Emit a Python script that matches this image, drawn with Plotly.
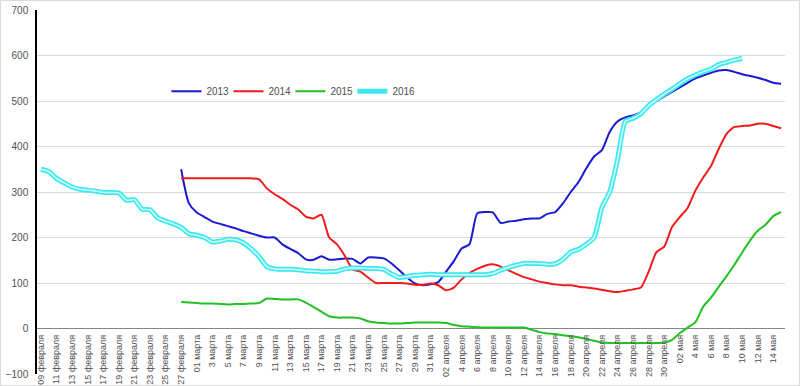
import pandas as pd
import plotly.graph_objects as go

# Categories: one per day, 9 Feb .. 15 May
categories = [d.strftime("%d.%m") for d in pd.date_range("2015-02-09", "2015-05-15")]

tick_labels = [
    "09 февраля", "11 февраля", "13 февраля", "15 февраля", "17 февраля",
    "19 февраля", "21 февраля", "23 февраля", "25 февраля", "27 февраля",
    "01 марта", "3 марта", "5 марта", "7 марта", "9 марта", "11 марта",
    "13 марта", "15 марта", "17 марта", "19 марта", "21 марта", "23 марта",
    "25 марта", "27 марта", "29 марта", "31 марта",
    "02 апреля", "4 апреля", "6 апреля", "8 апреля", "10 апреля", "12 апреля",
    "14 апреля", "16 апреля", "18 апреля", "20 апреля", "22 апреля",
    "24 апреля", "26 апреля", "28 апреля", "30 апреля",
    "02 мая", "4 мая", "6 мая", "8 мая", "10 мая", "12 мая", "14 мая",
]

N = None
s2013 = [N] * 18 + [
    350, 275, 255, 245, 235, 230, 225, 220, 214, 209,
    204, 200, 200, 185, 175, 166, 152, 151, 159, 151,
    152, 154, 153, 143, 156, 156, 154, 143, 128, 112,
    99, 95, 97, 102, 125, 148, 176, 185, 253, 256,
    255, 232, 235, 237, 240, 242, 242, 252, 256, 275,
    300, 322, 352, 378, 392, 432, 455, 464, 468, 475,
    488, 500, 510, 520, 530, 540, 550, 556, 562, 567,
    568, 564, 559, 555, 551, 546, 540, 538,
]
s2014 = [N] * 18 + [
    330, 330, 330, 330, 330, 330, 330, 330, 330, 330,
    328, 308, 295, 285, 272, 262, 246, 242, 250, 200,
    185, 160, 130, 125, 112, 100, 100, 100, 100, 99,
    96, 96, 99, 95, 84, 90, 108, 122, 131, 138,
    141, 136, 128, 120, 113, 108, 103, 100, 97, 95,
    95, 92, 90, 88, 85, 82, 80, 83, 86, 90,
    125, 168, 180, 223, 245, 265, 303, 332, 357, 395,
    428, 443, 445, 446, 450, 450, 445, 440,
]
s2015 = [N] * 18 + [
    58, 57, 56, 55, 55, 54, 53, 54, 54, 55,
    56, 66, 65, 64, 64, 64, 57, 47, 37, 27,
    24, 24, 24, 22, 16, 13, 12, 11, 11, 12,
    13, 13, 13, 13, 12, 8, 5, 4, 3, 2,
    2, 2, 2, 2, 2, -3, -8, -11, -12, -15,
    -17, -19, -23, -27, -31, -32, -32, -32, -32, -32,
    -32, -32, -31, -25, -10, 2, 14, 48, 68, 92,
    115, 140, 167, 193, 215, 228, 247, 256,
]
s2016 = [
    350, 345, 330, 320, 311, 306, 304, 302, 299, 299,
    298, 282, 283, 262, 261, 243, 236, 230, 222, 208,
    205, 200, 190, 192, 196, 195, 188, 175, 158, 136,
    131, 130, 130, 129, 127, 126, 125, 125, 126, 131,
    133, 133, 132, 132, 130, 120, 112, 114, 117, 118,
    119, 118, 118, 118, 118, 118, 118, 118, 121, 128,
    134, 139, 143, 143, 143, 141, 142, 152, 168, 174,
    185, 200, 266, 300, 370, 455, 462, 472, 490, 503,
    515, 526, 538, 549, 557, 564, 570, 580, 585, 590,
    594,
] + [N] * 5

FONT = "Liberation Sans, Arial, sans-serif"
TXT = "#505050"
SM = 0.6

fig = go.Figure()
fig.add_trace(go.Scatter(x=categories, y=s2013, name="2013", mode="lines",
                         line=dict(color="#1a1ad0", width=2, shape="spline", smoothing=SM)))
fig.add_trace(go.Scatter(x=categories, y=s2014, name="2014", mode="lines",
                         line=dict(color="#ee1c1c", width=2, shape="spline", smoothing=SM)))
fig.add_trace(go.Scatter(x=categories, y=s2015, name="2015", mode="lines",
                         line=dict(color="#22c022", width=2, shape="spline", smoothing=SM)))
fig.add_trace(go.Scatter(x=categories, y=s2016, name="2016", mode="lines",
                         line=dict(color="#3ee8ef", width=5, shape="spline", smoothing=SM)))
fig.add_trace(go.Scatter(x=categories, y=s2016, name="2016", mode="lines", showlegend=False,
                         line=dict(color="#d6ffff", width=1.5, shape="spline", smoothing=SM)))

fig.update_layout(
    width=800, height=386,
    margin=dict(l=37, r=15, t=10, b=12, autoexpand=False),
    paper_bgcolor="white", plot_bgcolor="white",
    font=dict(family=FONT, size=10, color=TXT),
    showlegend=True,
    legend=dict(orientation="h", x=0.173, y=0.777, xanchor="left", yanchor="middle",
                font=dict(size=10, color=TXT), bgcolor="rgba(0,0,0,0)",
                itemwidth=30, entrywidth=17, entrywidthmode="pixels"),
    xaxis=dict(type="category", categoryorder="array", categoryarray=categories,
               tickvals=categories[::2], ticktext=tick_labels, tickangle=-90,
               anchor="free", position=46 / 364, showgrid=False, showline=False,
               ticks="", zeroline=False, range=[-0.5, len(categories) - 0.5],
               automargin=False, ticklabelstandoff=4,
               tickfont=dict(size=9, color=TXT)),
    yaxis=dict(range=[-100, 700], dtick=100, showgrid=True, gridcolor="#d9d9d9",
               gridwidth=1, zeroline=True, zerolinecolor="#868686", zerolinewidth=1,
               showline=True, linecolor="black", linewidth=1.5, ticks="",
               automargin=False, ticklabelstandoff=5,
               tickfont=dict(size=10, color=TXT)),
    shapes=[dict(type="rect", xref="paper", yref="paper",
                 x0=-36.5 / 748, x1=762.5 / 748, y0=-11.5 / 364, y1=373.5 / 364,
                 line=dict(color="#d9d9d9", width=1), fillcolor="rgba(0,0,0,0)", layer="below")],
)

fig.write_html("out.html", config={"displayModeBar": False},
               post_script="document.body.style.margin='0px';document.body.style.overflow='hidden';")
